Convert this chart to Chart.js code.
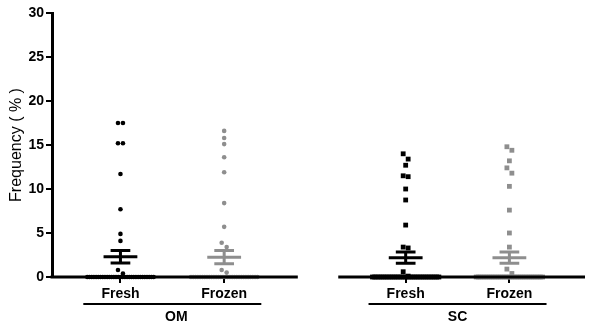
<!DOCTYPE html>
<html>
<head>
<meta charset="utf-8">
<script src="https://cdn.jsdelivr.net/npm/chart.js@4.4.1/dist/chart.umd.min.js"></script>
<style>
  body { margin: 0; background: #fff; }
  canvas { display: block; }
</style>
</head>
<body>
<canvas id="freq" width="589" height="324"></canvas>
<script>
// values
const categories = ["Fresh", "Frozen", "Fresh", "Frozen"];
const groups = ["OM", "SC"];
const yTicks = [0, 5, 10, 15, 20, 25, 30];

const omFresh = [17.5, 17.5, 15.2, 15.2, 11.7, 7.7, 4.9, 4.1, 0.8, 0.4,
  0, 0, 0, 0, 0, 0, 0, 0, 0, 0, 0, 0, 0, 0, 0, 0, 0, 0, 0, 0, 0, 0, 0, 0, 0, 0, 0, 0, 0, 0, 0];
const omFrozen = [16.6, 15.8, 15.1, 13.6, 11.9, 8.4, 5.7, 3.9, 3.4, 0.8, 0.5,
  0, 0, 0, 0, 0, 0, 0, 0, 0, 0, 0, 0, 0, 0, 0, 0, 0, 0, 0, 0, 0, 0, 0, 0, 0, 0, 0, 0, 0, 0];
const scFresh = [14.0, 13.4, 12.7, 11.5, 11.4, 10.0, 8.75, 5.9, 3.4, 3.3, 0.6, 0.1,
  0, 0, 0, 0, 0, 0, 0, 0, 0, 0, 0, 0, 0, 0, 0, 0, 0, 0, 0, 0, 0, 0, 0, 0, 0, 0, 0, 0, 0, 0, 0];
const scFrozen = [14.8, 14.4, 13.2, 12.4, 11.8, 10.3, 7.6, 5.0, 3.4, 0.9, 0.4,
  0, 0, 0, 0, 0, 0, 0, 0, 0, 0, 0, 0, 0, 0, 0, 0, 0, 0, 0, 0, 0, 0, 0, 0, 0, 0, 0, 0, 0, 0, 0];

const means = [2.3, 2.25, 2.2, 2.2];
const sems = [0.72, 0.75, 0.63, 0.63];

// layout
const catPos = [1, 2, 3.75, 4.75];
const groupCats = [[0, 1], [2, 3]];
const axisBreak = [2.71, 3.1];
const BLACK = "#000000";
const GRAY = "#8e8e8e";
const colors = [BLACK, GRAY, BLACK, GRAY];
const shapes = ["circle", "circle", "rect", "rect"];
const FONT = "'Liberation Sans', Arial, sans-serif";

// spread points with (nearly) the same value sideways, like a dot plot
function spread(vals, center) {
  const s = [...vals].sort((a, b) => b - a);
  const out = [];
  let i = 0;
  while (i < s.length) {
    let j = i;
    while (j < s.length && s[i] - s[j] < 0.65 && (s[j] > 0) === (s[i] > 0)) j++;
    const n = j - i;
    const step = n > 1 ? Math.min(0.048, 0.64 / (n - 1)) : 0;
    for (let k = 0; k < n; k++) {
      out.push({ x: center + (k - (n - 1) / 2) * step, y: s[i + k] });
    }
    i = j;
  }
  return out;
}

function meanSem(c, m, s) {
  const w = 0.163, cap = 0.095;
  return [
    { x: c - w, y: m }, { x: c + w, y: m }, { x: c, y: null },
    { x: c, y: m - s }, { x: c, y: m + s }, { x: c, y: null },
    { x: c - cap, y: m + s }, { x: c + cap, y: m + s }, { x: c, y: null },
    { x: c - cap, y: m - s }, { x: c + cap, y: m - s }
  ];
}

const series = [omFresh, omFrozen, scFresh, scFrozen];
const datasets = [];
series.forEach((vals, i) => {
  datasets.push({
    type: "line",
    data: meanSem(catPos[i], means[i], sems[i]),
    borderColor: colors[i],
    borderWidth: 3,
    pointRadius: 0,
    spanGaps: false,
    fill: false,
    clip: false,
    order: 1
  });
});
series.forEach((vals, i) => {
  datasets.push({
    data: spread(vals, catPos[i]),
    backgroundColor: colors[i],
    borderColor: colors[i],
    borderWidth: 0,
    pointStyle: shapes[i],
    pointRadius: shapes[i] === "rect" ? 3.4 : 2.3,
    clip: false,
    order: 2
  });
});

const brokenAxis = {
  id: "brokenAxis",
  afterDraw(chart) {
    const { ctx, chartArea, scales } = chart;
    const x = scales.x, y = scales.y;
    const y0 = y.getPixelForValue(0);
    ctx.save();
    ctx.strokeStyle = BLACK;
    ctx.lineWidth = 3;
    ctx.beginPath();
    ctx.moveTo(chartArea.left - 1.5, y0);
    ctx.lineTo(x.getPixelForValue(axisBreak[0]), y0);
    ctx.moveTo(x.getPixelForValue(axisBreak[1]), y0);
    ctx.lineTo(chartArea.right, y0);
    ctx.stroke();

    // group brackets and names
    ctx.lineWidth = 2;
    ctx.fillStyle = BLACK;
    ctx.font = "bold 14px " + FONT;
    ctx.textAlign = "center";
    ctx.textBaseline = "middle";
    groupCats.forEach((cats, g) => {
      const mid = (catPos[cats[0]] + catPos[cats[1]]) / 2;
      const half = 89;
      const px = x.getPixelForValue(mid);
      ctx.beginPath();
      ctx.moveTo(px - half, 304);
      ctx.lineTo(px + half, 304);
      ctx.stroke();
      ctx.fillText(groups[g], px + (g === 0 ? 4 : 0), 317);
    });
    ctx.restore();
  }
};

new Chart(document.getElementById("freq"), {
  type: "scatter",
  data: { datasets },
  options: {
    responsive: false,
    animation: false,
    devicePixelRatio: 1,
    layout: { padding: { top: 13, right: 0, bottom: 0, left: 0 } },
    plugins: { legend: { display: false }, tooltip: { enabled: false } },
    scales: {
      x: {
        type: "linear",
        min: 0.34,
        max: 5.479,
        border: { display: false },
        grid: { drawOnChartArea: false, drawTicks: true, tickLength: 6, color: BLACK, lineWidth: 2 },
        ticks: {
          color: BLACK,
          font: { family: FONT, size: 14, weight: "bold" },
          padding: 3,
          maxRotation: 0,
          autoSkip: false,
          callback: (v) => {
            const i = catPos.indexOf(v);
            return i >= 0 ? categories[i] : "";
          }
        },
        afterBuildTicks: (s) => { s.ticks = catPos.map((v) => ({ value: v })); },
        afterFit: (s) => { s.height = 47; }
      },
      y: {
        min: 0,
        max: 30,
        border: { display: true, color: BLACK, width: 3 },
        grid: { drawOnChartArea: false, drawTicks: true, tickLength: 6, color: BLACK, lineWidth: 2 },
        ticks: {
          color: BLACK,
          font: { family: FONT, size: 14, weight: "bold" },
          padding: 2,
          stepSize: 5
        },
        afterBuildTicks: (s) => { s.ticks = yTicks.map((v) => ({ value: v })); },
        title: {
          display: true,
          text: "Frequency ( % )",
          color: BLACK,
          font: { family: FONT, size: 16 },
          padding: { top: 7, bottom: 0 }
        },
        afterFit: (s) => { s.width = 52; }
      }
    }
  },
  plugins: [brokenAxis]
});
</script>
</body>
</html>
